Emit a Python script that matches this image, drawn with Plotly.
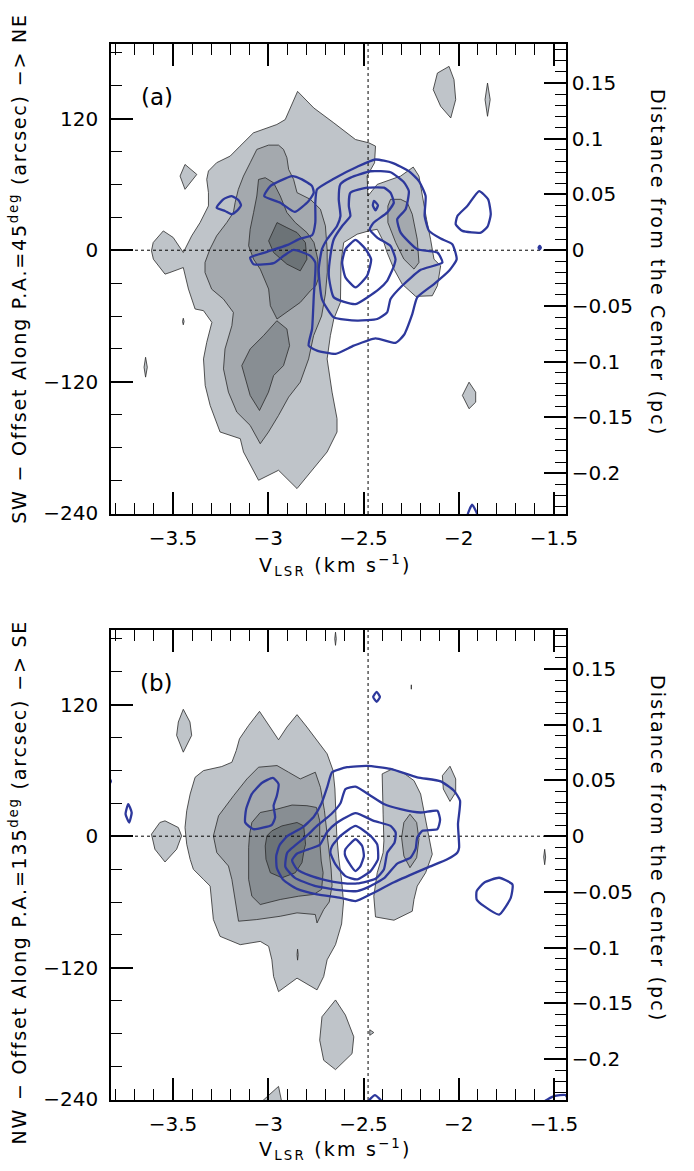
import plotly.graph_objects as go

# ---------------- axis / scale constants ----------------
X_RANGE = [-3.8255, -1.437]
Y_RANGE = [-240.5, 188.0]
PC_PER_ARCSEC = 0.000984          # right-hand axis (pc) per arcsec
V_REF = -2.476                    # vertical dotted reference line (km/s)
X_TICK_LABELS = [-3.5, -3.0, -2.5, -2.0, -1.5]
Y_TICK_LABELS = [-240, -120, 0, 120]

# ---------------- panel (a): gray filled contours (v [km/s], offset [arcsec]) ----------------
A_L1_MAIN = [(-2.846, 144.8), (-2.761, 129.7), (-2.656, 116.1), (-2.542, 100.9), (-2.472, 97.9), (-2.437, 94.9),
             (-2.442, 79.7), (-2.481, 67.6), (-2.477, 49.4), (-2.428, 60.0), (-2.305, 67.6), (-2.239, 75.8),
             (-2.209, 67.6), (-2.191, 49.4), (-2.169, 28.2), (-2.148, 10.0), (-2.130, -8.2), (-2.095, -14.2),
             (-2.112, -32.4), (-2.139, -41.5), (-2.226, -42.1), (-2.297, -30.9), (-2.340, -17.3), (-2.376, -2.1),
             (-2.393, 7.0), (-2.428, 19.1), (-2.472, 17.6), (-2.533, 14.6), (-2.604, 7.0), (-2.618, -11.2),
             (-2.621, -35.4), (-2.621, -47.6), (-2.656, -62.7), (-2.674, -77.9), (-2.691, -99.1), (-2.665, -129.4),
             (-2.639, -153.6), (-2.639, -165.7), (-2.691, -183.9), (-2.779, -202.1), (-2.849, -217.3), (-2.946, -200.6),
             (-3.051, -209.7), (-3.130, -183.9), (-3.147, -171.8), (-3.253, -165.7), (-3.305, -141.5), (-3.331, -123.3),
             (-3.340, -99.1), (-3.323, -84.0), (-3.296, -65.8), (-3.340, -55.1), (-3.384, -53.6), (-3.419, -35.4),
             (-3.446, -15.8), (-3.516, -20.3), (-3.542, -21.8), (-3.603, -8.2), (-3.613, -0.5), (-3.604, 7.0),
             (-3.551, 17.6), (-3.499, 11.6), (-3.446, -2.1), (-3.402, 13.1), (-3.358, 25.2), (-3.314, 40.4),
             (-3.314, 52.5), (-3.323, 64.6), (-3.314, 72.2), (-3.271, 79.8), (-3.200, 85.8), (-3.148, 94.9),
             (-3.078, 107.0), (-2.955, 114.6), (-2.911, 119.1)]
A_L1_BLOB_UR = [(-2.051, 167.6), (-2.025, 155.5), (-2.016, 137.3), (-2.042, 120.6), (-2.095, 131.2), (-2.134, 146.4), (-2.112, 161.5)]
A_L1_SLIVER_UR = [(-1.849, 152.4), (-1.835, 137.3), (-1.849, 122.1), (-1.862, 137.3)]
A_L1_BLOB_L = [(-3.437, 78.2), (-3.375, 69.1), (-3.437, 55.5), (-3.463, 67.6)]
A_L1_SLIVER_L = [(-3.644, -97.6), (-3.635, -106.7), (-3.644, -115.7), (-3.652, -106.7)]
A_L1_DOT = [(-3.446, -62.0), (-3.442, -65.0), (-3.446, -68.0), (-3.450, -65.0)]
A_L1_BLOB_LR = [(-1.946, -120.3), (-1.911, -129.4), (-1.911, -138.5), (-1.946, -144.5), (-1.981, -132.4)]

A_L2_MAIN = [(-3.060, 91.9), (-2.999, 95.8), (-2.946, 95.8), (-2.920, 91.9), (-2.902, 84.3), (-2.893, 73.7),
             (-2.867, 64.6), (-2.849, 52.5), (-2.779, 46.4), (-2.726, 37.3), (-2.700, 22.2), (-2.691, 0.9),
             (-2.690, -20.0), (-2.700, -40.0), (-2.720, -60.0), (-2.762, -77.9), (-2.788, -99.1), (-2.832, -120.3),
             (-2.893, -133.9), (-2.946, -150.6), (-2.999, -165.8), (-3.042, -176.4), (-3.095, -159.7), (-3.165, -147.6),
             (-3.209, -129.4), (-3.235, -108.2), (-3.227, -90.0), (-3.191, -68.8), (-3.183, -56.7), (-3.235, -44.6),
             (-3.297, -35.5), (-3.332, -20.3), (-3.332, -11.2), (-3.306, 1.0), (-3.271, 13.1), (-3.218, 25.2),
             (-3.183, 34.3), (-3.174, 43.4), (-3.157, 55.5), (-3.130, 67.6), (-3.095, 79.7)]
A_L2_RIGHT = [(-2.358, 46.4), (-2.305, 46.4), (-2.270, 43.4), (-2.244, 32.8), (-2.218, 10.0), (-2.209, -11.2),
              (-2.235, -17.2), (-2.288, -8.1), (-2.331, 7.0), (-2.372, 25.2), (-2.372, 40.3)]

A_L3_UPPER = [(-3.051, 64.5), (-3.016, 66.1), (-2.972, 61.5), (-2.937, 49.4), (-2.902, 34.3), (-2.858, 25.2),
              (-2.797, 16.1), (-2.760, 7.0), (-2.740, -8.2), (-2.738, -26.3), (-2.750, -32.4), (-2.779, -37.0),
              (-2.832, -47.6), (-2.902, -56.7), (-2.954, -62.7), (-2.989, -50.6), (-2.998, -35.4), (-3.042, -17.3),
              (-3.077, -8.2), (-3.103, 4.0), (-3.095, 19.1), (-3.077, 34.3), (-3.060, 49.4)]
A_L3_LOWER = [(-2.955, -64.3), (-2.902, -71.8), (-2.888, -87.0), (-2.920, -105.2), (-2.972, -114.3), (-2.999, -129.4),
              (-3.046, -146.1), (-3.095, -132.4), (-3.139, -105.2), (-3.095, -90.0), (-3.025, -77.9)]
A_L4 = [(-2.998, 8.5), (-2.954, 25.2), (-2.902, 20.6), (-2.849, 16.1), (-2.805, 7.0), (-2.797, -8.2),
        (-2.832, -18.8), (-2.902, -12.7), (-2.972, -2.1)]

# ---------------- panel (a): blue line contours ----------------
A_B_LEFT = [(-3.271, 38.8), (-3.236, 46.4), (-3.192, 49.4), (-3.157, 45.8), (-3.143, 41.0), (-3.165, 35.8), (-3.192, 32.8), (-3.227, 35.8)]
A_B_UPLEFT = [(-3.021, 49.4), (-2.989, 58.5), (-2.875, 67.6), (-2.823, 64.6), (-2.770, 58.5), (-2.761, 52.4),
              (-2.788, 44.9), (-2.861, 34.9), (-2.937, 43.3)]
A_B_OUTER = [(-3.095, -6.7), (-3.007, -1.5), (-2.902, 4.6), (-2.832, 10.6), (-2.770, 13.6), (-2.753, 25.2),
             (-2.753, 43.3), (-2.744, 55.5), (-2.656, 65.2), (-2.533, 76.1), (-2.437, 82.7), (-2.349, 79.7),
             (-2.262, 72.1), (-2.209, 63.0), (-2.174, 49.4), (-2.179, 31.2), (-2.156, 17.6), (-2.095, 10.6),
             (-2.034, 5.5), (-2.011, -8.2), (-2.051, -18.8), (-2.130, -30.9), (-2.218, -43.0), (-2.244, -58.2),
             (-2.288, -77.3), (-2.332, -84.5), (-2.437, -80.3), (-2.551, -87.0), (-2.647, -94.5), (-2.744, -91.5),
             (-2.788, -87.0), (-2.770, -71.8), (-2.761, -41.5), (-2.753, -11.2), (-2.779, -5.1), (-2.867, 0.3),
             (-2.919, -5.1), (-2.972, -11.8), (-3.077, -12.7)]
A_B_SECOND = [(-2.621, 60.2), (-2.568, 66.2), (-2.463, 72.0), (-2.358, 71.1), (-2.288, 62.0), (-2.262, 53.9),
              (-2.279, 37.3), (-2.323, 28.2), (-2.305, 16.1), (-2.218, 0.9), (-2.112, -2.1), (-2.086, -11.2),
              (-2.200, -17.9), (-2.297, -32.4), (-2.358, -44.5), (-2.376, -56.7), (-2.428, -62.7), (-2.533, -64.2),
              (-2.656, -61.2), (-2.718, -44.5), (-2.735, -17.3), (-2.718, 0.9), (-2.691, 10.0), (-2.639, 22.1),
              (-2.621, 31.2), (-2.630, 46.4)]
A_B_THIRD = [(-2.569, 52.4), (-2.481, 57.0), (-2.393, 57.0), (-2.358, 52.4), (-2.341, 43.3), (-2.376, 34.3),
             (-2.446, 25.2), (-2.467, 19.1), (-2.428, 11.5), (-2.358, 3.9), (-2.332, -8.2), (-2.340, -14.2),
             (-2.376, -27.9), (-2.419, -35.4), (-2.542, -49.1), (-2.656, -43.0), (-2.682, -23.3), (-2.674, -5.1),
             (-2.656, 10.0), (-2.612, 22.1), (-2.569, 31.2), (-2.577, 40.3)]
A_B_SMALL = [(-2.445, 44.9), (-2.424, 40.9), (-2.437, 36.4), (-2.451, 40.9)]
A_B_INNER = [(-2.595, 0.9), (-2.542, 9.4), (-2.489, 0.9), (-2.460, -8.2), (-2.481, -23.3), (-2.542, -33.9),
             (-2.595, -24.8), (-2.612, -11.2)]
A_B_RIGHT = [(-2.007, 31.2), (-1.955, 40.3), (-1.893, 53.9), (-1.846, 46.4), (-1.832, 32.7), (-1.849, 21.5),
             (-1.884, 16.1), (-1.981, 17.6), (-2.016, 23.6)]
A_B_DOT = [(-1.575, 4.0), (-1.569, 2.4), (-1.575, 0.8), (-1.581, 2.4)]
A_B_BOTTOM = [(-1.955, -243.0), (-1.930, -232.0), (-1.900, -243.0)]

# ---------------- panel (b): gray filled contours ----------------
B_L1_MAIN = [(-3.046, 113.8), (-2.998, 101.0), (-2.946, 87.9), (-2.902, 99.5), (-2.849, 110.8), (-2.797, 99.5),
             (-2.744, 87.3), (-2.691, 75.1), (-2.660, 60.0), (-2.650, 43.0), (-2.645, 20.0), (-2.640, 0.0),
             (-2.630, -20.0), (-2.615, -40.0), (-2.605, -60.0), (-2.615, -80.0), (-2.647, -98.9), (-2.691, -112.7),
             (-2.709, -127.9), (-2.744, -140.1), (-2.849, -129.4), (-2.946, -141.7), (-2.972, -127.9), (-2.981, -112.7),
             (-2.998, -100.4), (-3.042, -95.9), (-3.147, -98.9), (-3.253, -91.3), (-3.288, -76.0), (-3.296, -60.8),
             (-3.305, -45.5), (-3.340, -39.4), (-3.393, -30.2), (-3.410, -21.1), (-3.428, -7.4), (-3.437, 7.9),
             (-3.428, 23.2), (-3.410, 38.4), (-3.384, 53.7), (-3.340, 59.8), (-3.244, 63.5), (-3.191, 67.4),
             (-3.168, 78.1), (-3.151, 88.8), (-3.103, 101.0)]
B_L1_LEFT = [(-3.613, 1.8), (-3.569, 12.5), (-3.542, 14.0), (-3.472, 7.9), (-3.455, 0.3), (-3.481, -11.9), (-3.542, -23.5), (-3.595, -11.9)]
B_L1_LEAF = [(-3.446, 115.7), (-3.411, 104.1), (-3.402, 91.9), (-3.446, 76.6), (-3.481, 91.9), (-3.472, 104.1)]
B_L1_RLEAF = [(-2.046, 63.8), (-2.016, 52.2), (-2.016, 40.0), (-2.046, 31.7), (-2.081, 43.0), (-2.086, 55.2)]
B_L1_RLOBE = [(-2.402, 56.8), (-2.349, 61.3), (-2.288, 57.4), (-2.235, 50.7), (-2.200, 38.4), (-2.179, 20.1),
              (-2.156, 1.8), (-2.139, -16.5), (-2.174, -33.3), (-2.218, -45.5), (-2.235, -57.7), (-2.244, -68.4),
              (-2.340, -76.6), (-2.437, -73.6), (-2.446, -54.7), (-2.428, -33.3), (-2.397, -15.0), (-2.393, -4.3),
              (-2.397, 20.1), (-2.402, 41.5)]
B_L1_LOWER = [(-2.647, -149.3), (-2.595, -163.1), (-2.551, -182.9), (-2.560, -198.2), (-2.647, -212.8), (-2.709, -204.3),
              (-2.730, -186.0), (-2.718, -164.6)]
B_L1_BOTTOM = [(-3.060, -246.0), (-2.946, -228.1), (-2.925, -246.0)]
B_L1_TINY_TOP = [(-2.647, 186.0), (-2.643, 180.0), (-2.647, 174.0), (-2.651, 180.0)]
B_L1_TINY_TRI = [(-2.467, -176.5), (-2.446, -179.0), (-2.467, -181.5)]
B_L1_TINY_MID = [(-2.846, -103.0), (-2.843, -108.0), (-2.846, -113.0), (-2.849, -108.0)]
B_L1_TINY_RIGHT = [(-1.549, -12.0), (-1.544, -19.0), (-1.549, -26.0), (-1.554, -19.0)]
B_L1_TINY_DASH = [(-2.249, 138.0), (-2.247, 136.0), (-2.249, 134.0), (-2.251, 136.0)]

B_L2_MAIN = [(-3.051, 62.9), (-2.954, 64.4), (-2.893, 58.3), (-2.832, 52.2), (-2.753, 58.3), (-2.726, 44.5),
             (-2.705, 23.2), (-2.690, 1.8), (-2.680, -16.5), (-2.670, -30.0), (-2.665, -45.0), (-2.680, -60.0),
             (-2.709, -66.9), (-2.744, -79.1), (-2.753, -71.4), (-2.849, -69.9), (-2.937, -73.0), (-3.060, -76.0),
             (-3.156, -77.5), (-3.174, -57.7), (-3.191, -39.4), (-3.209, -27.2), (-3.270, -15.0), (-3.288, 0.3),
             (-3.261, 18.6), (-3.182, 36.9), (-3.112, 52.2)]
B_L2_RIGHT = [(-2.256, 20.1), (-2.221, 12.5), (-2.209, -2.8), (-2.221, -19.6), (-2.256, -28.7), (-2.288, -18.1),
              (-2.300, -1.3), (-2.288, 12.5)]
B_L3 = [(-3.086, 12.5), (-3.042, 21.6), (-2.954, 24.7), (-2.875, 28.4), (-2.797, 27.8), (-2.747, 26.2),
        (-2.730, 14.0), (-2.730, -4.3), (-2.722, -22.6), (-2.712, -33.3), (-2.720, -48.5), (-2.761, -53.1),
        (-2.840, -54.7), (-2.937, -57.7), (-3.042, -62.3), (-3.086, -54.7), (-3.103, -39.4), (-3.103, -21.1),
        (-3.103, -10.4), (-3.098, 1.8)]
B_L4 = [(-2.981, 4.9), (-2.928, 9.4), (-2.849, 12.5), (-2.814, 9.4), (-2.804, -7.4), (-2.811, -11.9),
        (-2.823, -24.1), (-2.858, -33.3), (-2.928, -37.9), (-2.989, -33.3), (-3.012, -21.1), (-3.016, -8.9),
        (-3.007, 0.3)]

# ---------------- panel (b): blue line contours ----------------
B_B_OUTER = [(-2.665, 58.3), (-2.586, 62.9), (-2.481, 64.1), (-2.358, 61.3), (-2.218, 53.7), (-2.095, 50.0),
             (-2.025, 41.5), (-1.993, 32.3), (-2.004, 11.0), (-1.998, -10.4), (-2.007, -14.9), (-2.060, -21.1),
             (-2.165, -28.7), (-2.340, -42.0), (-2.463, -53.0), (-2.542, -59.2), (-2.621, -56.2), (-2.744, -53.0),
             (-2.849, -48.0), (-2.920, -40.0), (-2.955, -29.0), (-2.958, -18.0), (-2.940, -8.0), (-2.900, 0.0),
             (-2.820, 8.0), (-2.760, 18.0), (-2.720, 30.0), (-2.690, 45.0)]
B_B_FOURTH = [(-2.595, 43.0), (-2.542, 45.1), (-2.463, 36.9), (-2.393, 29.3), (-2.305, 24.7), (-2.200, 21.6),
              (-2.112, 23.2), (-2.098, 14.9), (-2.112, 6.4), (-2.191, 4.9), (-2.218, -1.3), (-2.226, -11.3),
              (-2.253, -19.6), (-2.323, -25.0), (-2.390, -38.0), (-2.470, -46.0), (-2.533, -50.0), (-2.640, -49.0),
              (-2.760, -45.0), (-2.860, -38.0), (-2.910, -28.0), (-2.900, -15.0), (-2.800, 0.0), (-2.740, 10.0),
              (-2.670, 20.0), (-2.621, 30.0)]
B_B_THIRD = [(-2.638, 12.5), (-2.542, 21.0), (-2.446, 14.0), (-2.358, 9.4), (-2.331, 3.3), (-2.337, -5.8),
             (-2.375, -15.0), (-2.393, -30.3), (-2.437, -38.8), (-2.533, -43.1), (-2.621, -42.5), (-2.700, -40.0),
             (-2.780, -36.0), (-2.850, -30.0), (-2.875, -22.0), (-2.850, -16.0), (-2.790, -12.0), (-2.730, -8.0),
             (-2.690, 4.0)]
B_B_SECOND = [(-2.665, -8.9), (-2.621, 0.3), (-2.542, 9.4), (-2.463, 0.3), (-2.428, -7.4), (-2.424, -21.1),
              (-2.463, -31.8), (-2.533, -39.4), (-2.595, -36.4), (-2.647, -25.7), (-2.674, -15.0)]
B_B_INNER = [(-2.595, -11.9), (-2.542, -2.8), (-2.507, -8.9), (-2.498, -18.1), (-2.516, -27.2), (-2.542, -31.8),
             (-2.577, -24.2), (-2.598, -16.5)]
B_B_UPLEFT = [(-3.086, 38.5), (-3.034, 48.5), (-2.976, 53.1), (-2.946, 47.6), (-2.955, 36.9), (-2.972, 27.8),
              (-2.964, 17.1), (-2.981, 10.4), (-3.078, 6.4), (-3.121, 12.5), (-3.116, 24.7)]
B_B_LEFT = [(-3.735, 29.3), (-3.717, 21.6), (-3.730, 12.5), (-3.749, 20.1)]
B_B_EDGE = [(-3.845, 55.0), (-3.826, 50.0), (-3.845, 45.0)]
B_B_DIAMOND = [(-2.431, 131.5), (-2.414, 127.0), (-2.431, 122.4), (-2.449, 127.0)]
B_B_RIGHT = [(-1.906, -50.1), (-1.867, -42.4), (-1.788, -37.9), (-1.718, -44.0), (-1.727, -56.2), (-1.788, -71.4),
             (-1.867, -63.8), (-1.906, -57.7)]
B_B_BOT1 = [(-2.480, -243.0), (-2.440, -236.0), (-2.400, -243.0)]
B_B_BOT2 = [(-1.560, -243.0), (-1.500, -237.0), (-1.440, -236.0), (-1.420, -243.0)]

# ---------------- styling ----------------
GRAYS = ['#bfc4c9', '#a4a9ae', '#888e93', '#6c7377']
EDGE = '#2b2b2b'
BLUE = '#2d389c'
FONT = 'DejaVu Sans, Verdana, sans-serif'
SPACED = "<span style='letter-spacing:2.2px'>{}</span>"
SPACED_L = "<span style='letter-spacing:1.8px'>{}</span>"

PANELS = [
    dict(xa='x', ya='y', levels=[[A_L1_MAIN, A_L1_BLOB_UR, A_L1_SLIVER_UR, A_L1_BLOB_L, A_L1_SLIVER_L, A_L1_DOT, A_L1_BLOB_LR],
                                 [A_L2_MAIN, A_L2_RIGHT], [A_L3_UPPER, A_L3_LOWER], [A_L4]],
         blue=[A_B_LEFT, A_B_UPLEFT, A_B_OUTER, A_B_SECOND, A_B_THIRD, A_B_SMALL, A_B_INNER, A_B_RIGHT, A_B_DOT, A_B_BOTTOM]),
    dict(xa='x2', ya='y3', levels=[[B_L1_MAIN, B_L1_LEFT, B_L1_LEAF, B_L1_RLEAF, B_L1_RLOBE, B_L1_LOWER, B_L1_BOTTOM,
                                    B_L1_TINY_TOP, B_L1_TINY_TRI, B_L1_TINY_MID, B_L1_TINY_RIGHT, B_L1_TINY_DASH],
                                   [B_L2_MAIN, B_L2_RIGHT], [B_L3], [B_L4]],
         blue=[B_B_OUTER, B_B_FOURTH, B_B_THIRD, B_B_SECOND, B_B_INNER, B_B_UPLEFT, B_B_LEFT, B_B_EDGE, B_B_DIAMOND,
               B_B_RIGHT, B_B_BOT1, B_B_BOT2]),
]


def closed(poly):
    xs = [p[0] for p in poly] + [poly[0][0]]
    ys = [p[1] for p in poly] + [poly[0][1]]
    return xs, ys


fig = go.Figure()
for pan in PANELS:
    for lvl, polys in enumerate(pan['levels']):
        for poly in polys:
            xs, ys = closed(poly)
            fig.add_trace(go.Scatter(x=xs, y=ys, mode='lines', fill='toself', fillcolor=GRAYS[lvl],
                                     line=dict(color=EDGE, width=0.8), hoverinfo='skip', showlegend=False,
                                     xaxis=pan['xa'], yaxis=pan['ya']))
    # dotted reference lines
    fig.add_trace(go.Scatter(x=[V_REF, V_REF], y=Y_RANGE, mode='lines', line=dict(color='black', width=1, dash='dot'),
                             hoverinfo='skip', showlegend=False, xaxis=pan['xa'], yaxis=pan['ya']))
    fig.add_trace(go.Scatter(x=X_RANGE, y=[0, 0], mode='lines', line=dict(color='black', width=1, dash='dot'),
                             hoverinfo='skip', showlegend=False, xaxis=pan['xa'], yaxis=pan['ya']))
    for poly in pan['blue']:
        xs, ys = closed(poly)
        fig.add_trace(go.Scatter(x=xs, y=ys, mode='lines', line=dict(color=BLUE, width=2.3, shape='spline', smoothing=0.5),
                                 hoverinfo='skip', showlegend=False, xaxis=pan['xa'], yaxis=pan['ya']))

# empty traces so the right-hand (pc) axes are registered
fig.add_trace(go.Scatter(x=[], y=[], xaxis='x', yaxis='y2', showlegend=False))
fig.add_trace(go.Scatter(x=[], y=[], xaxis='x2', yaxis='y4', showlegend=False))

TICKFONT = dict(family=FONT, size=20, color='black')
common = dict(showline=True, linecolor='black', linewidth=1.5, ticks='inside', tickcolor='black', tickwidth=1.5,
              showgrid=False, zeroline=False, tickfont=TICKFONT)


def xax(anchor):
    return dict(common, range=X_RANGE, anchor=anchor, domain=[0, 1], tickmode='array', tickvals=X_TICK_LABELS,
                ticklen=22, mirror='ticks', ticklabelstandoff=5,
                minor=dict(ticks='inside', dtick=0.1, tick0=0, ticklen=11, tickcolor='black', tickwidth=1.2))


def yax(anchor, dom):
    return dict(common, range=Y_RANGE, anchor=anchor, domain=dom, tickmode='array', tickvals=Y_TICK_LABELS,
                ticklen=22, ticklabelstandoff=7,
                minor=dict(ticks='inside', dtick=30, tick0=0, ticklen=11, tickcolor='black', tickwidth=1.2))


def pcax(anchor, over):
    return dict(common, range=[Y_RANGE[0] * PC_PER_ARCSEC, Y_RANGE[1] * PC_PER_ARCSEC], anchor=anchor,
                overlaying=over, side='right', dtick=0.05, tick0=0, ticklen=22, ticklabelstandoff=0,
                minor=dict(ticks='inside', dtick=0.01, tick0=0, ticklen=11, tickcolor='black', tickwidth=1.2))


TOP_DOM = [0.5549, 1.0]
BOT_DOM = [0.0, 0.4451]

fig.update_layout(
    width=694, height=1171, autosize=False,
    margin=dict(l=111, r=128, t=44, b=71),
    paper_bgcolor='white', plot_bgcolor='white',
    font=dict(family=FONT, size=19, color='black'),
    xaxis=xax('y'), yaxis=yax('x', TOP_DOM), yaxis2=pcax('x', 'y'),
    xaxis2=xax('y3'), yaxis3=yax('x2', BOT_DOM), yaxis4=pcax('x2', 'y3'),
)

TF = dict(family=FONT, size=19, color='black')
XT = SPACED.format('V<sub>LSR</sub> (km s<sup>\u22121</sup>)')
ann = [
    dict(text='(a)', x=0.101, y=0.9498, font=dict(family=FONT, size=23, color='black')),
    dict(text='(b)', x=0.101, y=0.3949, font=dict(family=FONT, size=23, color='black')),
    dict(text=XT, x=0.4945, y=0.5066, font=TF),
    dict(text=XT, x=0.4945, y=-0.0473, font=TF),
    dict(text=SPACED_L.format('SW \u2212 Offset Along P.A.=45<sup>deg</sup> (arcsec) \u2212> NE'), x=-0.2044, y=0.7880,
         textangle=-90, font=TF),
    dict(text=SPACED_L.format('NW \u2212 Offset Along P.A.=135<sup>deg</sup> (arcsec) \u2212> SE'), x=-0.2044, y=0.2070,
         textangle=-90, font=TF),
    dict(text=SPACED.format('Distance from the Center (pc)'), x=1.2022, y=0.7927, textangle=90, font=TF),
    dict(text=SPACED.format('Distance from the Center (pc)'), x=1.2022, y=0.2378, textangle=90, font=TF),
]
for a in ann:
    fig.add_annotation(xref='paper', yref='paper', showarrow=False, xanchor='center', yanchor='middle', **a)

fig.write_html('out.html')
